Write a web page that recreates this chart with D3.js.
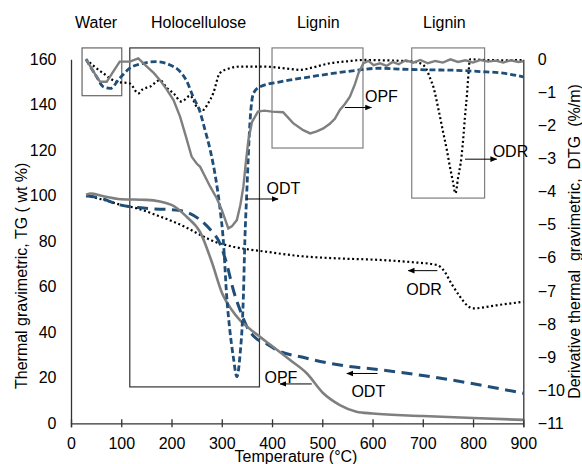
<!DOCTYPE html>
<html>
<head>
<meta charset="utf-8">
<script src="https://cdn.jsdelivr.net/npm/d3@7"></script>
<style>
  html, body { margin: 0; padding: 0; background: #fff; }
  svg { display: block; font-family: "Liberation Sans", Arial, sans-serif; }
  text { fill: #000; }
</style>
</head>
<body>
<svg id="chart" width="582" height="464"></svg>
<script>
// ---------- data ----------
const xTicks = [0, 100, 200, 300, 400, 500, 600, 700, 800, 900];
const tgTicks = [0, 20, 40, 60, 80, 100, 120, 140, 160];
const dtgTicks = [0, -1, -2, -3, -4, -5, -6, -7, -8, -9, -10, -11];

// TG curves (left axis, wt %)
const opfTgT = [30, 40, 60, 100, 150, 200, 230, 257, 280, 301, 320, 336, 356, 376, 400, 436, 469, 502, 535, 568, 600, 700, 800, 900];
const opfTg  = [100.5, 101, 100, 98.5, 98.2, 96, 90.8, 84, 71, 57, 49.8, 45.4, 41.5, 38, 34, 27.8, 22, 13.2, 8, 5.1, 4.3, 3.2, 2.3, 1.5];

const odtTgT = [30, 58, 97, 144, 217, 257, 283, 293, 310, 323, 336, 350, 370, 389, 403, 469, 535, 620, 700, 795, 900];
const odtTg  = [100, 99, 96, 94.6, 93.5, 89.4, 83.6, 80.6, 70, 58.6, 50, 42.5, 37, 35, 33, 28.6, 25.6, 23.4, 21, 17.6, 13.2];

const odrTgT = [30, 60, 100, 131, 170, 204, 230, 257, 290, 323, 389, 456, 530, 615, 680, 728, 741, 758, 774, 790, 800, 850, 900];
const odrTg  = [100, 98.5, 96, 94.5, 91.5, 88.6, 86, 82.8, 79.5, 77.6, 75.4, 73.5, 72.5, 71.8, 70.8, 69.6, 67.4, 61, 55.7, 51.5, 50.5, 52, 53.4];

// DTG curves (right axis, %/m)
const opfDtgT = [30, 40, 50, 58, 71, 84, 97, 117, 134, 151, 165, 177, 190, 204, 217, 228, 240, 250, 257, 267, 277, 290, 300, 307, 313, 320, 330, 337, 343, 348, 353, 360, 372, 385, 400, 422, 442, 462, 476, 489, 502, 515, 525, 535, 545, 555, 565, 572, 582, 592, 602, 615, 628, 640, 652, 666, 681, 695, 710, 725, 740, 755, 770, 785, 800, 815, 830, 845, 860, 875, 890, 900];
const opfDtg  = [0, -0.25, -0.5, -0.68, -0.68, -0.37, -0.07, -0.07, 0.03, -0.22, -0.42, -0.63, -0.9, -1.23, -1.73, -2.3, -2.94, -3.15, -3.25, -3.55, -3.85, -4.2, -4.55, -4.85, -5.11, -5.05, -4.86, -4.4, -3.85, -3.1, -2.44, -1.9, -1.58, -1.55, -1.58, -1.6, -1.93, -2.14, -2.24, -2.18, -2.09, -1.95, -1.8, -1.53, -1.35, -1.13, -0.75, -0.42, -0.12, -0.05, -0.18, -0.12, -0.2, -0.08, -0.15, -0.03, -0.1, -0.02, -0.12, -0.05, -0.1, 0, -0.08, -0.03, -0.1, -0.02, -0.07, -0.04, -0.1, -0.03, -0.08, -0.06];

const odtDtgT = [30, 51, 64, 78, 97, 117, 144, 170, 197, 217, 230, 243, 257, 266, 277, 288, 296, 303, 310, 316, 323, 330, 336, 343, 346, 350, 356, 363, 376, 416, 476, 549, 615, 660, 714, 760, 814, 860, 900];
const odtDtg  = [0, -0.53, -0.83, -0.88, -0.57, -0.27, -0.12, -0.07, -0.17, -0.37, -0.65, -1.13, -1.6, -2.1, -2.74, -3.6, -4.45, -5.46, -7.2, -8.18, -9.0, -9.59, -8.99, -7.17, -5.46, -3.95, -1.93, -1.03, -0.83, -0.68, -0.53, -0.37, -0.27, -0.3, -0.32, -0.33, -0.37, -0.42, -0.53];

const odrDtgT = [30, 45, 64, 91, 117, 134, 143, 157, 177, 190, 204, 220, 237, 250, 263, 272, 283, 296, 316, 336, 383, 430, 456, 480, 515, 550, 582, 620, 660, 681, 695, 708, 714, 721, 731, 741, 748, 754, 760, 765, 770, 777, 781, 784, 788, 791, 794, 820, 860, 900];
const odrDtg  = [0, -0.2, -0.42, -0.68, -0.73, -1.03, -0.9, -0.83, -0.63, -0.85, -1.03, -1.28, -1.1, -1.43, -1.53, -1.35, -1.03, -0.42, -0.27, -0.22, -0.22, -0.28, -0.32, -0.25, -0.12, -0.06, -0.02, -0.03, -0.05, -0.07, -0.12, -0.32, -0.55, -0.83, -1.5, -2.24, -2.75, -3.25, -3.7, -4.05, -3.6, -2.94, -2.3, -1.73, -1.05, -0.42, 0, -0.02, -0.03, -0.02];

// annotation data
const regionLabels = ["Water", "Holocellulose", "Lignin", "Lignin"];
const regionLabelT = [50, 254, 492, 743];
// boxes: [T start, T end, TG top, TG bottom]
const regionBoxT0 = [22, 117, 400, 678];
const regionBoxT1 = [101, 375, 581, 823];
const regionBoxTop = [165, 165, 165, 165];
const regionBoxBottom = [144, 16, 121, 99];

const annNames = ["ODT", "OPF", "ODR", "ODR", "ODT", "OPF"];
const annTextT = [389, 585, 839, 667, 558, 385];
const annTextY = [100.8, 141.4, 117.2, 56.4, 11.7, 17.6];   // TG units (baseline)
const annArrowT0 = [349, 545, 784, 729, 610, 479];
const annArrowT1 = [412, 598, 847, 671, 549, 416];
const annArrowY = [98.6, 138.8, 116.1, 67.1, 21.9, 17.3];

// ---------- chart ----------
const svg = d3.select("#chart");
const x = d3.scaleLinear().domain([0, 900]).range([71, 523.3]);
const yL = d3.scaleLinear().domain([0, 160]).range([423.3, 59.3]);
const yR = d3.scaleLinear().domain([-11, 0]).range([423.3, 59.3]);

const grey = "#7f7f7f", blue = "#1f4e79";

// region boxes
const boxColors = ["#666", "#333", "#7f7f7f", "#7f7f7f"];
regionLabels.forEach((lab, i) => {
  svg.append("rect")
    .attr("x", x(regionBoxT0[i]))
    .attr("y", yL(regionBoxTop[i]))
    .attr("width", x(regionBoxT1[i]) - x(regionBoxT0[i]))
    .attr("height", yL(regionBoxBottom[i]) - yL(regionBoxTop[i]))
    .attr("fill", "none").attr("stroke", boxColors[i]).attr("stroke-width", 1.2);
  svg.append("text")
    .attr("x", x(regionLabelT[i])).attr("y", 27.5)
    .attr("text-anchor", "middle").attr("font-size", 16).text(lab);
});

// axes
const xAxis = svg.append("g").attr("transform", `translate(0,${yL(0)})`)
  .call(d3.axisBottom(x).tickValues(xTicks).tickSize(4).tickPadding(8));
xAxis.selectAll(".tick line").attr("y1", -4).attr("y2", 4);
const yAxisL = svg.append("g").attr("transform", `translate(${x(0)},0)`)
  .call(d3.axisLeft(yL).tickValues(tgTicks).tickSize(0).tickPadding(14.5));
const yAxisR = svg.append("g").attr("transform", `translate(${x(900)},0)`)
  .call(d3.axisRight(yR).tickValues(dtgTicks).tickSize(0).tickPadding(14.5));
[xAxis, yAxisL, yAxisR].forEach(g => {
  g.selectAll("text").attr("font-size", 16).attr("font-family", '"Liberation Sans", Arial, sans-serif').attr("fill", "#000");
  g.selectAll("path, line").attr("stroke", "#333").attr("stroke-width", 1.3);
});
xAxis.selectAll("text").attr("dy", "0.87em");

// axis titles
svg.append("text").attr("x", 296).attr("y", 461.5).attr("text-anchor", "middle")
  .attr("font-size", 16).text("Temperature (°C)");
svg.append("text").attr("transform", "translate(26.5,389) rotate(-90)")
  .attr("text-anchor", "start").attr("font-size", 16)
  .text("Thermal gravimetric, TG ( wt %)");
svg.append("text").attr("transform", "translate(580,241.5) rotate(-90)")
  .attr("text-anchor", "middle").attr("font-size", 16).style("white-space", "pre")
  .text("Derivative thermal  gravimetric,  DTG  (%/m)");

// lines
function draw(ts, vs, yScale, color, width, dash, curve) {
  const pts = ts.map((t, i) => [t, vs[i]]);
  svg.append("path").datum(pts)
    .attr("d", d3.line().x(d => x(d[0])).y(d => yScale(d[1])).curve(curve || d3.curveMonotoneX))
    .attr("fill", "none").attr("stroke", color).attr("stroke-width", width)
    .attr("stroke-dasharray", dash || null);
}
draw(odrTgT, odrTg, yL, "#000", 2.2, "2,2.6");
draw(odtTgT, odtTg, yL, blue, 3, "11,6.5");
draw(opfTgT, opfTg, yL, grey, 2.6);
draw(odrDtgT, odrDtg, yR, "#000", 2.2, "2,2.6");
draw(odtDtgT, odtDtg, yR, blue, 2.8, "6,3");
draw(opfDtgT, opfDtg, yR, grey, 2.4, null, d3.curveLinear);

// series annotations with arrows
const defs = svg.append("defs");
defs.append("marker").attr("id", "ah").attr("viewBox", "0 0 10 10")
  .attr("refX", 9).attr("refY", 5).attr("markerWidth", 7).attr("markerHeight", 7)
  .attr("orient", "auto").append("path").attr("d", "M0,1 L10,5 L0,9 Z").attr("fill", "#000");

annNames.forEach((n, i) => {
  svg.append("line")
    .attr("x1", x(annArrowT0[i])).attr("y1", yL(annArrowY[i]))
    .attr("x2", x(annArrowT1[i])).attr("y2", yL(annArrowY[i]))
    .attr("stroke", "#000").attr("stroke-width", 1).attr("marker-end", "url(#ah)");
  svg.append("text").attr("x", x(annTextT[i])).attr("y", yL(annTextY[i]))
    .attr("font-size", 16).text(n);
});
</script>
</body>
</html>
